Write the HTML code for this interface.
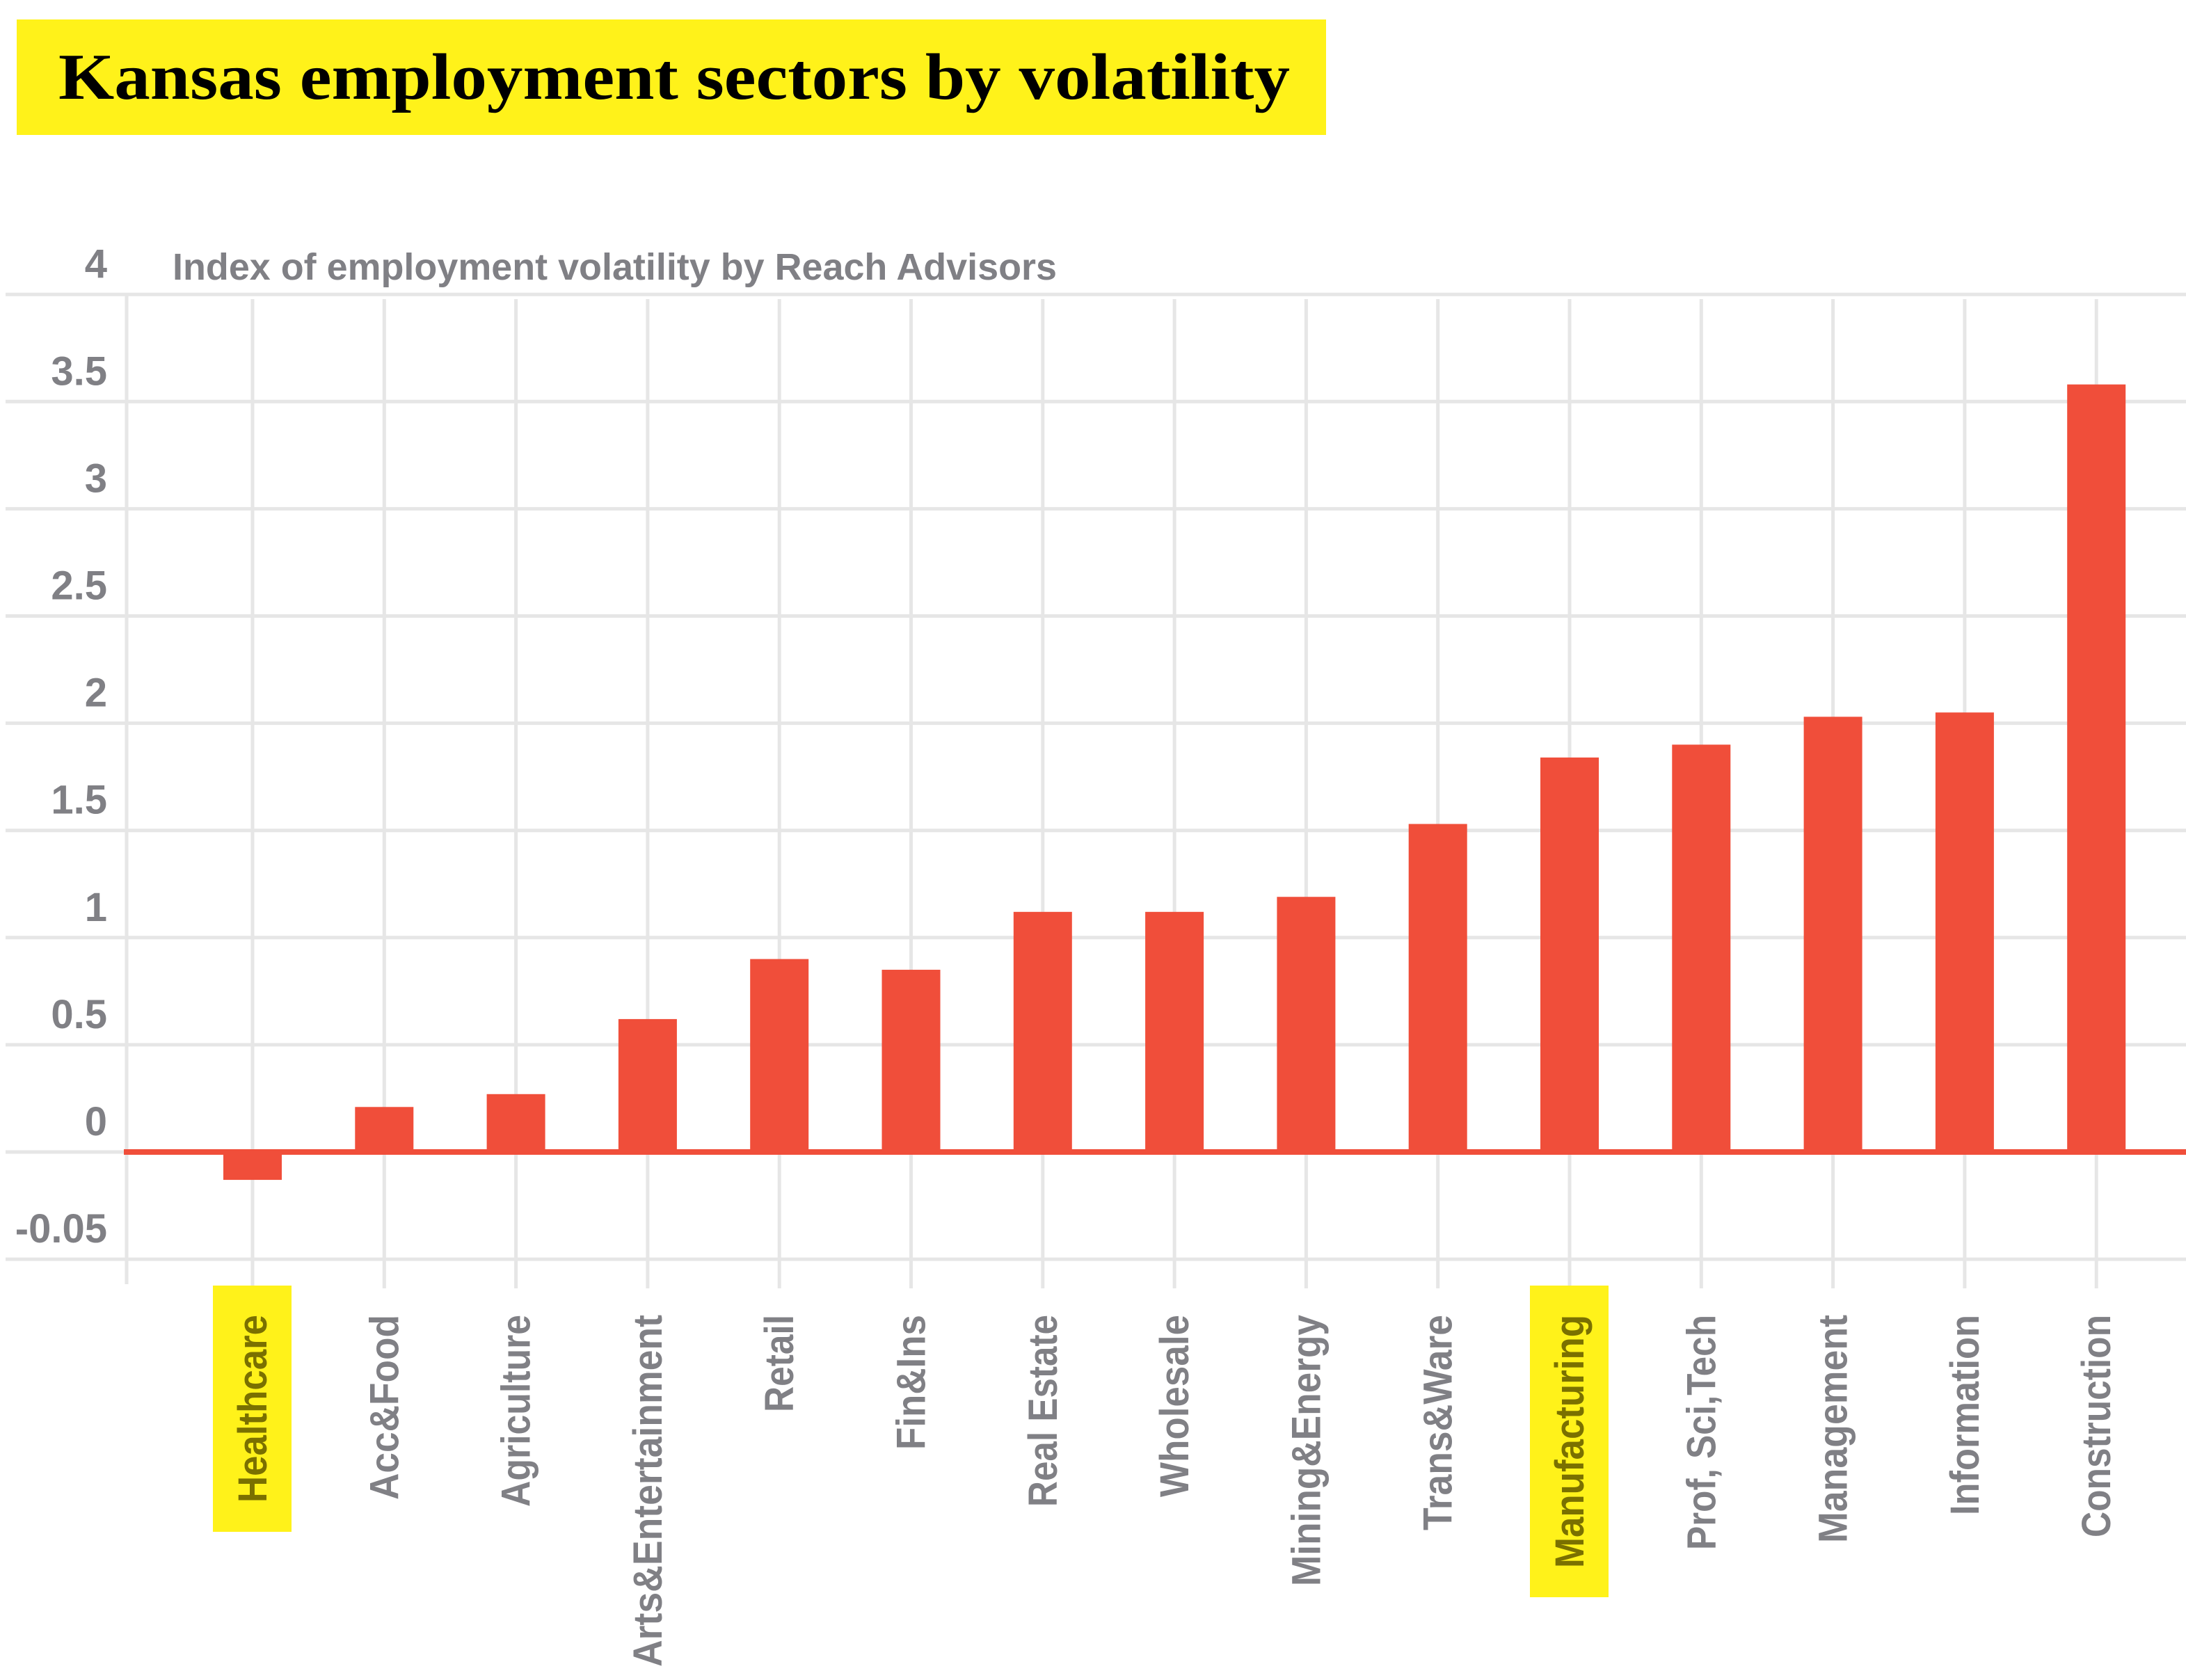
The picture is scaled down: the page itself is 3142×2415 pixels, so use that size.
<!DOCTYPE html>
<html><head><meta charset="utf-8"><style>
html,body{margin:0;padding:0;background:#fff;}
svg{display:block;}
</style></head><body>
<svg width="3142" height="2415" viewBox="0 0 3142 2415" xmlns="http://www.w3.org/2000/svg">
<rect x="24" y="28" width="1882" height="166" fill="#fff21a"/>
<text x="84" y="142" font-family="Liberation Serif, serif" font-weight="bold" font-size="94" fill="#000" textLength="1770" lengthAdjust="spacingAndGlyphs">Kansas employment sectors by volatility</text>
<text x="248" y="402" font-family="Liberation Sans, sans-serif" font-weight="bold" font-size="54" fill="#808085" textLength="1271" lengthAdjust="spacingAndGlyphs">Index of employment volatility by Reach Advisors</text>
<g id="grid"></g>
<g id="hl"></g>
<g id="bars"></g>
<g id="ylab"></g>
<g id="xlab"></g>
</svg>
<script>
const categories = ["Healthcare","Acc&Food","Agriculture","Arts&Entertainment","Retail","Fin&Ins","Real Estate","Wholesale","Mining&Energy","Trans&Ware","Manufacturing","Prof, Sci,Tech","Management","Information","Construction"];
const values = [-0.13,0.21,0.27,0.62,0.90,0.85,1.12,1.12,1.19,1.53,1.84,1.90,2.03,2.05,3.58];
const tickValues = [4,3.5,3,2.5,2,1.5,1,0.5,0,-0.5];
const tickLabels = ["4","3.5","3","2.5","2","1.5","1","0.5","0","-0.05"];
const labelLengths = [270,266,276,506,140,194,276,262,390,310,364,338,328,288,320];
const highlighted = ["Healthcare","Manufacturing"];

const NS="http://www.w3.org/2000/svg";
const y0=1656, unit=308.2;
const yScale=v=>y0-v*unit;
const xScale=i=>363+i*189.3;
const bw=84;
function mk(tag,attrs,parent){const e=document.createElementNS(NS,tag);for(const k in attrs)e.setAttribute(k,attrs[k]);parent.appendChild(e);return e;}
const grid=document.getElementById('grid'),bars=document.getElementById('bars'),ylab=document.getElementById('ylab'),xlab=document.getElementById('xlab'),hl=document.getElementById('hl');

tickValues.forEach((v,i)=>{
  const y=yScale(v);
  const l=mk('line',{x1:8,x2:3142,y1:y,y2:y,stroke:'#e6e6e6','stroke-width':5},grid);
  
  
  const t=mk('text',{x:154,y:y-24,'text-anchor':'end','font-family':'Liberation Sans, sans-serif','font-weight':'bold','font-size':58,fill:'#808085'},ylab);
  t.textContent=tickLabels[i];
  
  
});
const vl0=mk('line',{x1:182,x2:182,y1:423,y2:1846,stroke:'#e6e6e6','stroke-width':5},grid);


categories.forEach((c,i)=>{
  const x=xScale(i);
  const vl=mk('line',{x1:x,x2:x,y1:430,y2:1852,stroke:'#e6e6e6','stroke-width':5},grid);
  
  
});
const zl=mk('line',{x1:178,x2:3142,y1:y0,y2:y0,stroke:'#f04e3a','stroke-width':8},bars);


categories.forEach((c,i)=>{
  const x=xScale(i),v=values[i];
  const top=Math.min(yScale(v),y0),h=Math.abs(yScale(v)-y0);
  const r=mk('rect',{x:x-bw/2,y:top,width:bw,height:h,fill:'#f04e3a'},bars);
  
  
  const isH=highlighted.includes(c);
  if(isH){
    const b=mk('rect',{x:x-57,y:1848,width:113,height:labelLengths[i]+84,fill:'#fff21a'},hl);
    
    
  }
  const t=mk('text',{transform:`translate(${x+20},1890) rotate(-90)`,'text-anchor':'end','font-family':'Liberation Sans, sans-serif','font-weight':'bold','font-size':58,fill:isH?'#7a7000':'#808085',textLength:labelLengths[i],lengthAdjust:'spacingAndGlyphs'},xlab);
  t.textContent=c;
  
  
});
</script>
</body></html>
